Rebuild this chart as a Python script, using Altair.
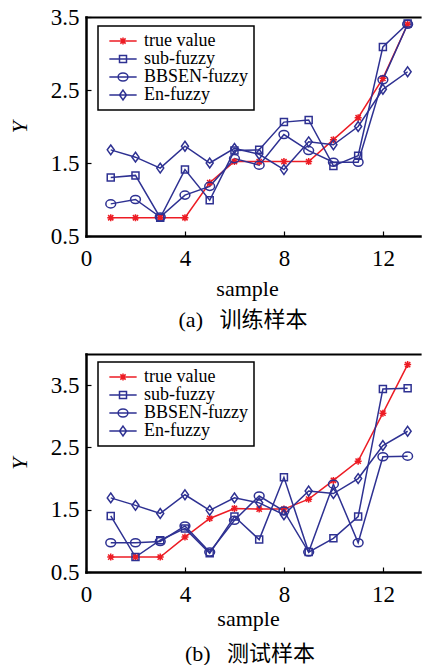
import altair as alt
import pandas as pd

# ---------------- data ----------------
samples = list(range(1, 14))
series_names = ["true value", "sub-fuzzy", "BBSEN-fuzzy", "En-fuzzy"]

# (a) training samples
true_a = [0.75, 0.75, 0.75, 0.75, 1.23, 1.52, 1.52, 1.52, 1.52, 1.82, 2.12, 2.66, 3.40]
sub_a = [1.30, 1.33, 0.75, 1.41, 0.99, 1.67, 1.68, 2.06, 2.09, 1.46, 1.60, 3.09, 3.41]
bbsen_a = [0.94, 1.00, 0.76, 1.06, 1.18, 1.56, 1.47, 1.89, 1.67, 1.51, 1.51, 2.64, 3.40]
en_a = [1.68, 1.58, 1.43, 1.73, 1.50, 1.70, 1.62, 1.41, 1.79, 1.75, 2.00, 2.51, 2.75]

# (b) test samples
true_b = [0.74, 0.74, 0.74, 1.06, 1.36, 1.52, 1.51, 1.51, 1.67, 1.97, 2.28, 3.05, 3.83]
sub_b = [1.40, 0.74, 1.01, 1.20, 0.80, 1.39, 1.02, 2.02, 0.82, 1.04, 1.39, 3.44, 3.45]
bbsen_b = [0.97, 0.97, 0.99, 1.24, 0.82, 1.33, 1.72, 1.48, 0.82, 1.91, 0.97, 2.35, 2.36]
en_b = [1.69, 1.57, 1.44, 1.74, 1.49, 1.69, 1.61, 1.42, 1.80, 1.76, 2.00, 2.53, 2.76]

x_ticks = [0, 4, 8, 12]
y_ticks = [0.5, 1.5, 2.5, 3.5]
caption_a = "(a)\u00a0\u00a0\u00a0训练样本"
caption_b = "(b)\u00a0\u00a0\u00a0测试样本"

# ---------------- styles ----------------
RED = "#ED1C24"
BLUE = "#2E3192"
SERIF = "Liberation Serif"
CAPFONT = "Liberation Serif, Noto Sans CJK SC"
PLOT_W = 334
X_MAX = 13.5

marker_paths = [
    "M-1,0H1M0,-1V1M-0.75,-0.75L0.75,0.75M-0.75,0.75L0.75,-0.75",
    "M-1,-1H1V1H-1Z",
    "M-1.4,0C-1.4,-0.635,-0.773,-1.15,0,-1.15C0.773,-1.15,1.4,-0.635,1.4,0"
    "C1.4,0.635,0.773,1.15,0,1.15C-0.773,1.15,-1.4,0.635,-1.4,0Z",
    "M0,-1.4L1,0L0,1.4L-1,0Z",
]
legend_paths = ["M-3.9,0H3.9" + p for p in marker_paths]


def make_df(vals):
    rows = []
    for name, v in zip(series_names, vals):
        for s, y in zip(samples, v):
            rows.append({"sample": s, "Y": y, "series": name})
    return pd.DataFrame(rows)


def color_scale():
    return alt.Scale(domain=series_names, range=[RED, BLUE, BLUE, BLUE])


def x_scale():
    return alt.Scale(domain=[0, X_MAX], nice=False, zero=False)


def panel(vals, ymax, height, caption, title_pad, title_x, legend_y, cap_dx, cap_off):
    df = make_df(vals)
    x_main = alt.X(
        "sample:Q", scale=x_scale(),
        axis=alt.Axis(
            values=x_ticks, title="sample", titleFont=SERIF, titleFontSize=22,
            titleFontWeight="normal", titleColor="black", titleX=title_x,
            titlePadding=title_pad,
            labelFont=SERIF, labelFontSize=23, labelColor="black", labelPadding=11,
            labelFlush=False, ticks=False,
            domain=True, domainColor="black", domainWidth=2.5, domainCap="square",
            grid=True, gridColor="black", gridWidth=1.2,
            gridDash=[0, height - 5, 5, 1000],
        ),
    )
    x_top = alt.X(
        "sample:Q", scale=x_scale(),
        axis=alt.Axis(
            orient="top", labels=False, ticks=False, title=None, grid=False,
            domain=True, domainColor="black", domainWidth=2.2, domainCap="square",
        ),
    )
    x_none = alt.X("sample:Q", scale=x_scale(), axis=None)

    def y_main():
        return alt.Y(
            "Y:Q", scale=alt.Scale(domain=[0.5, ymax], nice=False, zero=False),
            axis=alt.Axis(
                values=y_ticks, format=".1f", title="Y", titleFont=SERIF, titleFontSize=22,
                titleFontStyle="italic", titleFontWeight="normal", titleColor="black",
                titlePadding=19,
                labelFont=SERIF, labelFontSize=23, labelColor="black", labelPadding=7,
                labelFlush=False, ticks=False,
                domain=True, domainColor="black", domainWidth=2.5, domainCap="square",
                grid=True, gridColor="black", gridWidth=1.2, gridDash=[5, 1000],
            ),
        )

    leg = alt.Legend(
        orient="none", legendX=12, legendY=legend_y, title=None,
        labelFont=SERIF, labelFontSize=18, labelColor="black",
        labelExpr="datum.label + '\u00a0\u00a0'",
        fillColor="white", strokeColor="black", padding=6,
        symbolSize=49, symbolStrokeWidth=1.5, symbolOffset=10,
        labelOffset=12, rowPadding=0, symbolOpacity=1,
        symbolFillColor="transparent",
    )
    base = alt.Chart(df)
    lines = base.mark_line(strokeWidth=1.5).encode(
        x=x_main, y=y_main(),
        color=alt.Color("series:N", scale=color_scale(), legend=None),
        order="sample:Q",
        detail="series:N",
    )
    points = base.mark_point(filled=False, size=49, strokeWidth=1.5, opacity=1).encode(
        x=x_none, y=y_main(),
        color=alt.Color("series:N", scale=color_scale(), legend=None),
        shape=alt.Shape("series:N", scale=alt.Scale(domain=series_names, range=marker_paths),
                        legend=None),
    )
    legend_layer = base.mark_point(filled=False, size=49, strokeWidth=1.5, opacity=0).encode(
        x=x_top, y=y_main(),
        color=alt.Color("series:N", scale=color_scale(), legend=leg),
        shape=alt.Shape("series:N", scale=alt.Scale(domain=series_names, range=legend_paths),
                        legend=leg),
    )
    return alt.layer(lines, points, legend_layer).resolve_scale(
        color="independent", shape="independent"
    ).resolve_axis(x="independent").properties(
        width=PLOT_W, height=height,
        title=alt.TitleParams(
            text=caption, orient="bottom", anchor="middle", font=CAPFONT,
            fontSize=22, fontWeight="normal", color="black", dx=cap_dx, offset=cap_off,
        ),
    )


top = panel([true_a, sub_a, bbsen_a, en_a], 3.5, 219, caption_a, 8, 161, 9, -10, 11)
bottom = panel([true_b, sub_b, bbsen_b, en_b], 4.0, 218, caption_b, 2, 162, 8, -3, 15)

chart = alt.vconcat(top, bottom, spacing=23).properties(
    padding={"left": 0, "top": -2, "right": 0, "bottom": 0}
).configure_view(
    stroke=None
).configure_legend(
    strokeWidth=1.5
)

chart.save("out.html", embed_options={"renderer": "svg", "actions": False})
